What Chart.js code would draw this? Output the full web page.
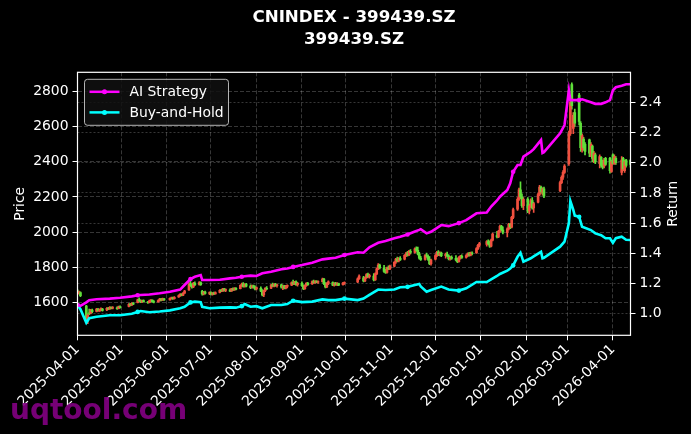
<!DOCTYPE html>
<html><head><meta charset="utf-8">
<script src="https://cdn.jsdelivr.net/npm/chart.js@4.4.1/dist/chart.umd.min.js"></script>
<style>html,body{margin:0;padding:0;background:#000;}canvas{display:block}</style>
</head><body>
<canvas id="c" width="691" height="434"></canvas>
<script>
const chartTitle = ['CNINDEX - 399439.SZ', '399439.SZ'];
const watermark = 'uqtool.com';
const seriesLabels = ['AI Strategy', 'Buy-and-Hold'];
const axisTitles = ['Price', 'Return'];
const firstDate = '2025-04-01';
const lastDate = '2026-04-13';
const holidays = ['2025-04-04','2025-05-01','2025-05-02','2025-05-05','2025-06-02',
  '2025-10-01','2025-10-02','2025-10-03','2025-10-06','2025-10-07','2025-10-08',
  '2026-01-01','2026-01-02','2026-02-16','2026-02-17','2026-02-18','2026-02-19','2026-02-20','2026-02-23','2026-04-06'];
const monthTickLabels = ['2025-04-01','2025-05-01','2025-06-01','2025-07-01','2025-08-01','2025-09-01','2025-10-01',
  '2025-11-01','2025-12-01','2026-01-01','2026-02-01','2026-03-01','2026-04-01'];
const priceTicks = [1600, 1800, 2000, 2200, 2400, 2600, 2800];
const returnTicks = [1.0, 1.2, 1.4, 1.6, 1.8, 2.0, 2.2, 2.4];

// Daily OHLC (trading days, in order)
const candleOpen = [
 1665,1650,1656,1578,1496,1540,1538,1556,1548,1560,1550,1556,1562,1556,1566,1562,1570,1566,1568,1564,1574,
 1576,1590,1584,1594,1598,1616,1608,1602,1610,1602,1598,1608,1612,1604,1602,1610,1618,1612,1620,
 1614,1622,1626,1620,1630,1638,1646,1640,1652,1670,1704,1696,1688,1708,1702,1712,1662,1648,1658,1650,
 1656,1646,1652,1648,1656,1668,1664,1676,1668,1670,1664,1676,1670,1680,1678,1696,1704,1690,1702,1692,1684,1694,1686,
 1676,1680,1664,1642,1666,1680,1680,1698,1692,1702,1694,1700,1686,1692,1680,1690,1698,1712,1704,1716,1700,
 1708,1694,1678,1696,1708,1704,1718,1712,1720,1714,1718,1732,1706,1688,1708,1712,1698,1708,1700,1706,1700,1710,
 1716,1734,1740,1722,1740,1758,1746,1750,1728,1762,1790,1812,1796,1776,1770,1796,1790,
 1806,1828,1846,1836,1850,1846,1868,1878,1870,1890,1884,1904,1896,1876,1852,1844,1866,1862,1844,1820,
 1846,1866,1884,1872,1880,1866,1874,1864,1848,1856,1850,1842,1832,1854,1862,1856,1866,1876,1868,1880,1882,1906,1924,
 1930,1946,1934,1920,1954,1980,1972,2004,2032,2012,1996,2018,2044,2028,2084,2130,2186,2240,2200,2150,
 2186,2120,2150,2180,2138,2170,2214,2256,2230,2246,2236,2282,2312,2340,
 2390,2560,2840,2590,2680,2780,2620,2470,2530,2500,2525,2440,2490,2410,2440,2390,2425,2400,2375,2420,2420,2345,
 2440,2390,2420,2340,2420,2350,2410,2410];
const candleHigh = [
 1672,1664,1660,1582,1534,1562,1560,1562,1566,1566,1562,1568,1566,1570,1572,1576,1574,1576,1574,1578,1580,
 1592,1594,1598,1598,1618,1626,1614,1612,1614,1606,1612,1616,1614,1610,1614,1622,1622,1624,1622,
 1626,1630,1630,1632,1642,1650,1650,1656,1668,1712,1722,1706,1714,1716,1718,1716,1668,1662,1664,1660,
 1660,1656,1658,1660,1672,1674,1680,1680,1676,1676,1680,1682,1684,1684,1700,1710,1712,1706,1708,1700,1698,1698,1694,
 1688,1688,1672,1670,1684,1690,1702,1710,1706,1708,1704,1704,1698,1696,1696,1700,1716,1726,1720,1722,1714,
 1716,1700,1700,1712,1714,1722,1726,1724,1724,1722,1738,1736,1712,1712,1722,1716,1712,1714,1712,1710,1714,1716,
 1740,1756,1748,1744,1764,1766,1760,1764,1768,1796,1820,1818,1810,1788,1800,1808,1812,
 1832,1850,1858,1854,1860,1872,1884,1890,1896,1900,1910,1916,1914,1884,1862,1872,1880,1870,1860,1846,
 1872,1890,1894,1888,1886,1880,1886,1870,1862,1864,1866,1852,1860,1868,1870,1872,1882,1884,1886,1888,1912,1930,1942,
 1952,1956,1950,1960,1994,2004,2010,2040,2038,2030,2024,2050,2050,2090,2136,2196,2250,2286,2218,2196,
 2196,2160,2190,2196,2170,2222,2266,2262,2252,2256,2290,2320,2350,2384,
 2575,2750,2850,2680,2700,2790,2630,2560,2540,2510,2530,2510,2495,2460,2450,2440,2430,2410,2420,2425,2425,2410,
 2445,2440,2430,2430,2425,2410,2415,2412];
const candleLow = [
 1650,1646,1632,1486,1478,1530,1534,1540,1545,1550,1548,1552,1550,1552,1558,1560,1562,1562,1560,1562,1566,
 1574,1580,1582,1586,1596,1604,1598,1598,1600,1594,1596,1602,1600,1596,1600,1606,1608,1610,1610,
 1612,1618,1616,1618,1628,1634,1636,1638,1650,1668,1690,1680,1684,1694,1698,1696,1640,1642,1646,1644,
 1642,1640,1644,1646,1654,1660,1662,1664,1660,1660,1662,1666,1668,1670,1676,1690,1686,1686,1688,1678,1680,1680,1670,
 1670,1660,1636,1632,1660,1672,1678,1690,1688,1690,1686,1680,1672,1676,1676,1682,1694,1700,1700,1696,1692,
 1690,1672,1674,1690,1696,1702,1708,1708,1710,1708,1714,1700,1682,1684,1700,1694,1692,1696,1694,1694,1698,1702,
 1712,1730,1716,1718,1736,1740,1738,1722,1724,1758,1786,1790,1770,1764,1766,1786,1786,
 1802,1822,1830,1830,1838,1842,1860,1862,1866,1876,1880,1890,1870,1846,1838,1840,1856,1838,1814,1812,
 1842,1860,1866,1864,1860,1852,1860,1842,1840,1844,1836,1826,1828,1846,1850,1852,1860,1862,1864,1870,1878,1900,1916,
 1920,1928,1912,1916,1950,1966,1968,1998,2006,1990,1972,2012,2020,2024,2076,2124,2180,2190,2140,2128,
 2110,2104,2140,2130,2112,2166,2208,2220,2210,2196,2230,2276,2300,2334,
 2380,2550,2700,2560,2600,2610,2460,2455,2465,2440,2430,2430,2400,2395,2390,2365,2370,2360,2365,2380,2335,2340,
 2385,2385,2385,2325,2350,2340,2370,2370];
const candleClose = [
 1656,1660,1638,1502,1528,1536,1555,1546,1562,1552,1558,1564,1554,1566,1562,1572,1566,1570,1564,1574,1570,
 1588,1584,1594,1590,1614,1608,1602,1610,1604,1598,1608,1612,1604,1600,1610,1618,1612,1620,1614,
 1622,1626,1620,1628,1638,1646,1640,1652,1664,1704,1696,1688,1708,1700,1712,1700,1648,1658,1650,1656,
 1646,1652,1648,1656,1668,1664,1676,1668,1672,1664,1676,1670,1680,1674,1696,1704,1690,1702,1692,1684,1694,1686,1676,
 1684,1664,1642,1666,1680,1676,1698,1692,1702,1694,1700,1686,1692,1680,1690,1696,1712,1704,1716,1700,1708,
 1694,1678,1696,1708,1700,1718,1712,1720,1714,1718,1732,1706,1688,1708,1716,1698,1708,1700,1706,1698,1710,1712,
 1734,1750,1722,1740,1758,1746,1754,1728,1762,1790,1812,1796,1776,1770,1796,1790,1806,
 1828,1846,1836,1850,1842,1868,1878,1870,1890,1884,1904,1896,1876,1852,1844,1866,1862,1844,1820,1840,
 1866,1884,1872,1880,1866,1874,1864,1848,1856,1850,1842,1832,1854,1862,1856,1866,1876,1868,1880,1878,1906,1924,1934,
 1946,1934,1920,1954,1988,1972,2004,2032,2012,2000,2018,2044,2028,2084,2128,2186,2240,2200,2150,2186,
 2120,2150,2180,2138,2162,2214,2256,2230,2246,2204,2282,2312,2340,2376,
 2560,2740,2720,2665,2620,2630,2480,2550,2480,2460,2450,2500,2420,2450,2400,2430,2380,2370,2410,2385,2350,2400,
 2390,2430,2395,2410,2360,2400,2380,2385];

// Return curves (day offset from 2025-04-01)
const lineDays = [0,2,6,8,13,22,29,37,41,43,49,56,63,70,73,77,80,84,85,90,97,104,108,112,114,118,122,126,132,139,143,147,
  153,160,167,171,176,182,191,195,199,205,210,216,220,225,230,233,234,238,241,248,253,260,265,272,279,282,286,288,293,295,297,
  300,302,304,309,311,316,317,318,329,332,335,336,338,339,342,344,350,353,357,360,363,365,367,371,374,377];
const aiReturn = [1.058,1.052,1.075,1.09,1.096,1.10,1.106,1.115,1.122,1.124,1.127,1.135,1.145,1.16,1.19,1.23,1.245,1.256,1.223,1.223,
  1.225,1.234,1.238,1.245,1.248,1.252,1.25,1.268,1.278,1.294,1.30,1.31,
  1.322,1.338,1.36,1.365,1.371,1.389,1.407,1.404,1.44,1.47,1.481,1.50,1.51,1.525,1.545,1.555,1.56,1.532,1.543,1.587,1.58,1.60,1.62,
  1.665,1.67,1.71,1.75,1.775,1.82,1.864,1.94,
  1.985,1.985,2.04,2.073,2.09,2.15,2.065,2.07,2.195,2.25,2.48,2.415,2.415,2.415,2.415,2.42,2.40,2.39,2.39,2.40,2.415,2.48,2.50,2.51,2.52,2.52];
const bhReturn = [1.058,1.03,0.94,0.97,0.98,0.99,0.99,1.0,1.012,1.018,1.01,1.015,1.022,1.036,1.046,1.075,1.08,1.076,1.046,1.036,
  1.04,1.042,1.04,1.05,1.064,1.046,1.05,1.036,1.058,1.058,1.064,1.086,
  1.077,1.08,1.095,1.09,1.09,1.10,1.09,1.10,1.125,1.16,1.157,1.16,1.175,1.178,1.19,1.197,1.18,1.146,1.157,1.18,1.16,1.153,1.168,
  1.21,1.21,1.228,1.25,1.263,1.285,1.30,1.32,
  1.377,1.404,1.345,1.367,1.38,1.41,1.367,1.37,1.444,1.477,1.60,1.746,1.687,1.65,1.642,1.576,1.554,1.532,1.52,1.50,1.50,1.47,1.50,1.51,1.49,1.488];
const markerDays = [0,41,77,112,147,182,225,260,297,342];

// ---- derived: calendar positions ----
const DAY = 86400000;
function utc(s){ const p = s.split('-').map(Number); return Date.UTC(p[0], p[1]-1, p[2]); }
const t0 = utc(firstDate);
const dayOf = s => Math.round((utc(s) - t0) / DAY);
const tradeDays = [];
for (let t = t0; t <= utc(lastDate); t += DAY) {
  const dt = new Date(t), wd = dt.getUTCDay(), iso = dt.toISOString().slice(0,10);
  if (wd === 0 || wd === 6 || holidays.includes(iso)) continue;
  tradeDays.push(Math.round((t - t0) / DAY));
}
const UP = '#f0503f', DOWN = '#5fe03a';
const candleColor = ctx => candleClose[ctx.dataIndex] >= candleOpen[ctx.dataIndex] ? UP : DOWN;
const FONT = '"DejaVu Sans", sans-serif';
const GRID = 'rgba(255,255,255,0.27)';

const decor = {
  id: 'decor',
  beforeDraw(chart) {
    const ctx = chart.ctx;
    ctx.save(); ctx.fillStyle = '#000'; ctx.fillRect(0, 0, chart.width, chart.height); ctx.restore();
  },
  afterDraw(chart) {
    const ctx = chart.ctx, a = chart.chartArea;
    ctx.save();
    ctx.strokeStyle = '#fff'; ctx.lineWidth = 1.2;
    ctx.strokeRect(a.left, a.top, a.right - a.left, a.bottom - a.top);
    ctx.fillStyle = '#fff'; ctx.textAlign = 'center'; ctx.textBaseline = 'middle';
    ctx.font = 'bold 16.7px ' + FONT;
    const cx = (a.left + a.right) / 2;
    ctx.fillText(chartTitle[0], cx, 18);
    ctx.fillText(chartTitle[1], cx, 40);
    ctx.font = '13.9px ' + FONT;
    const cy = (a.top + a.bottom) / 2;
    ctx.save(); ctx.translate(20, cy); ctx.rotate(-Math.PI/2); ctx.fillText(axisTitles[0], 0, 0); ctx.restore();
    ctx.save(); ctx.translate(673, cy); ctx.rotate(-Math.PI/2); ctx.fillText(axisTitles[1], 0, 0); ctx.restore();
    const lx = a.left + 7, ly = a.top + 7, lw = 144, lh = 46;
    ctx.beginPath(); ctx.roundRect(lx, ly, lw, lh, 3);
    ctx.fillStyle = 'rgba(16,16,16,0.85)'; ctx.fill();
    ctx.strokeStyle = 'rgba(210,210,210,0.85)'; ctx.lineWidth = 1; ctx.stroke();
    const ds = chart.data.datasets.filter(d => d.type === 'line');
    ds.forEach((d, i) => {
      const y = ly + 12.5 + i * 20.6;
      ctx.strokeStyle = d.borderColor; ctx.lineWidth = 2.5;
      ctx.beginPath(); ctx.moveTo(lx + 5, y); ctx.lineTo(lx + 35, y); ctx.stroke();
      ctx.fillStyle = d.borderColor; ctx.beginPath(); ctx.arc(lx + 20, y, 2.5, 0, Math.PI*2); ctx.fill();
      ctx.fillStyle = '#fff'; ctx.textAlign = 'left'; ctx.font = '13.9px ' + FONT;
      ctx.fillText(d.label, lx + 45, y + 0.5);
    });
    ctx.font = 'bold 28px ' + FONT; ctx.textAlign = 'left'; ctx.textBaseline = 'alphabetic';
    ctx.fillStyle = 'rgba(128,0,128,0.92)';
    ctx.fillText(watermark, 10, 419);
    ctx.restore();
  }
};

const markerRadius = ctx => markerDays.includes(lineDays[ctx.dataIndex]) ? 2.3 : 0;

new Chart(document.getElementById('c'), {
  type: 'line',
  data: {
    datasets: [
      { type: 'line', label: seriesLabels[0], yAxisID: 'y1', order: 0,
        data: lineDays.map((d, i) => ({x: d, y: aiReturn[i]})),
        borderColor: '#ff00ff', backgroundColor: '#ff00ff', borderWidth: 2.6,
        pointRadius: markerRadius, pointHoverRadius: 0, pointBorderWidth: 0, tension: 0 },
      { type: 'line', label: seriesLabels[1], yAxisID: 'y1', order: 0,
        data: lineDays.map((d, i) => ({x: d, y: bhReturn[i]})),
        borderColor: '#00ffff', backgroundColor: '#00ffff', borderWidth: 2.6,
        pointRadius: markerRadius, pointHoverRadius: 0, pointBorderWidth: 0, tension: 0 },
      { type: 'bar', label: 'body', yAxisID: 'y', order: 1, grouped: false,
        data: tradeDays.map((d, i) => ({x: d, y: [candleOpen[i], candleClose[i]]})),
        backgroundColor: candleColor, barThickness: 2, borderWidth: 0, borderSkipped: false },
      { type: 'bar', label: 'wick', yAxisID: 'y', order: 2, grouped: false,
        data: tradeDays.map((d, i) => ({x: d, y: [candleLow[i], candleHigh[i]]})),
        backgroundColor: candleColor, barThickness: 1, borderWidth: 0, borderSkipped: false }
    ]
  },
  options: {
    responsive: false, animation: false, devicePixelRatio: 1,
    layout: { padding: { top: 72.3, left: 0, right: 0, bottom: 0 } },
    plugins: { legend: { display: false }, tooltip: { enabled: false }, title: { display: false } },
    scales: {
      x: {
        type: 'linear', min: 0, max: dayOf(lastDate), offset: false,
        afterBuildTicks: s => { s.ticks = monthTickLabels.map(l => ({value: dayOf(l)})); },
        afterFit: s => { s.height = 434 - 335.3; },
        ticks: { autoSkip: false, minRotation: 45, maxRotation: 45, color: '#fff', padding: 1,
                 font: { family: FONT, size: 13.9 }, callback: (v, i) => monthTickLabels[i] },
        grid: { color: GRID, lineWidth: 0.8, tickColor: '#fff', tickLength: 5, tickWidth: 1, offset: false },
        border: { display: false, dash: [4, 2] }
      },
      y: {
        position: 'left', min: 1412, max: 2910,
        afterBuildTicks: s => { s.ticks = priceTicks.map(v => ({value: v})); },
        afterFit: s => { s.width = 77.5; },
        ticks: { color: '#fff', padding: 4, font: { family: FONT, size: 13.9 }, callback: v => String(v) },
        grid: { color: GRID, lineWidth: 0.8, tickColor: '#fff', tickLength: 5, tickWidth: 1 },
        border: { display: false, dash: [4, 2] }
      },
      y1: {
        position: 'right', min: 0.857, max: 2.599,
        afterBuildTicks: s => { s.ticks = returnTicks.map(v => ({value: v})); },
        afterFit: s => { s.width = 60.5; },
        ticks: { color: '#fff', padding: 4, font: { family: FONT, size: 13.9 }, callback: v => v.toFixed(1) },
        grid: { color: GRID, lineWidth: 0.8, tickColor: '#fff', tickLength: 5, tickWidth: 1, drawOnChartArea: true },
        border: { display: false, dash: [2, 2] }
      }
    }
  },
  plugins: [decor]
});
</script>
</body></html>
